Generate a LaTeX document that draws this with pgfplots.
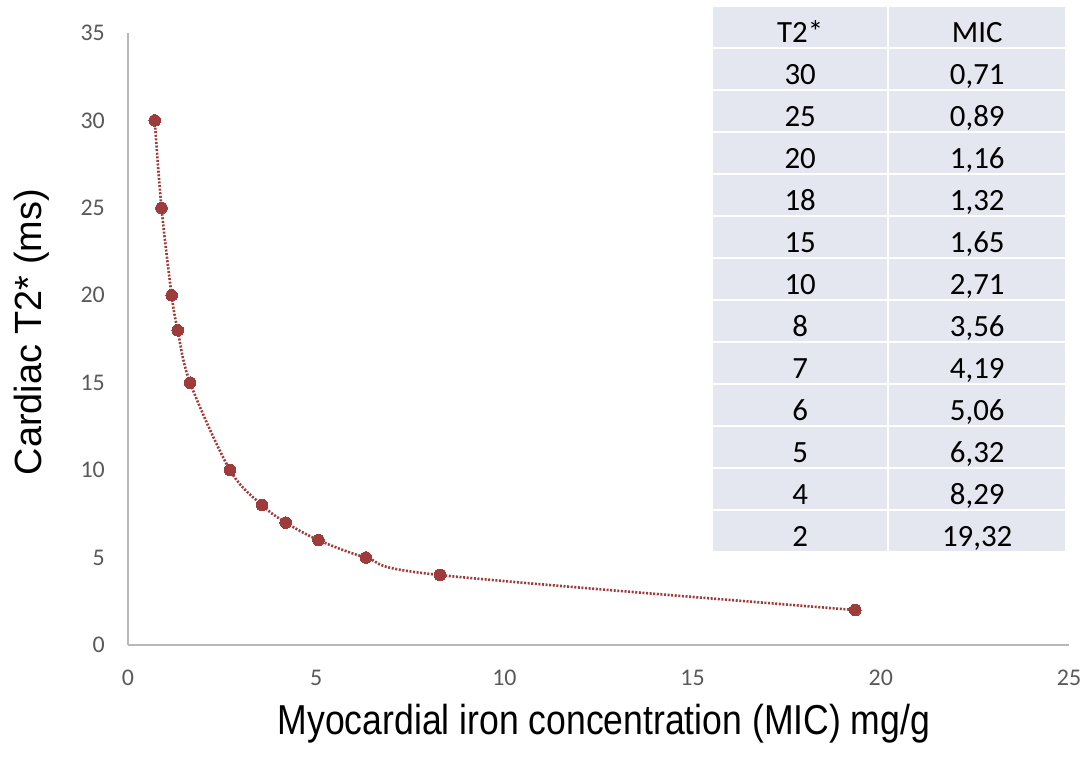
\documentclass[border=0pt]{standalone}
\usepackage{pgfplots}
\pgfplotsset{compat=1.18}
\usepackage{fontspec}
\setmainfont{Carlito}
\newfontfamily\arialf{Liberation Sans}
\usetikzlibrary{matrix}
\definecolor{pt}{HTML}{9E3B3B}
\definecolor{tbl}{HTML}{E4E6F0}
\definecolor{axgray}{HTML}{B8B8B8}
\definecolor{tickgray}{HTML}{595959}
\begin{document}
\begin{tikzpicture}
\useasboundingbox (-128bp,-120bp) rectangle (959bp,645bp);
\begin{axis}[
  at={(0,0)}, anchor=origin,
  x=37.64bp, y=17.486bp,
  xmin=0, xmax=25, ymin=0, ymax=35,
  axis lines=left,
  axis line style={-, draw=axgray, line width=1.4bp},
  xtick={0,5,...,25}, ytick={0,5,...,35},
  major tick length=0pt,
  /pgf/number format/assume math mode=true,
  tick label style={font=\fontsize{24}{27}\selectfont, text=tickgray},
  xticklabel style={anchor=north, inner sep=0pt, yshift=-25bp},
  yticklabel style={anchor=east, inner sep=0pt, xshift=-23bp},
  xlabel={\scalebox{0.85}[1]{\arialf\fontsize{42}{48}\selectfont Myocardial iron concentration (MIC) mg/g}},
  xlabel style={at={(axis description cs:0.5058,-0.147)}, anchor=base, inner sep=0pt},
  ylabel={\arialf\fontsize{38}{44}\selectfont Cardiac T2* (ms)},
  ylabel style={at={(axis description cs:-0.0914,0.511)}, anchor=base, inner sep=0pt, rotate=0},
  clip=false,
]
\addplot[pt, line width=2.6bp, dash pattern=on 2bp off 1.6bp, smooth, tension=0.55,
  mark=*, mark size=5.8bp, mark options={solid, fill=pt, draw=pt, line width=0pt}]
  coordinates {
  (0.71,30) (0.89,25) (1.16,20) (1.32,18) (1.65,15) (2.71,10)
  (3.56,8) (4.19,7) (5.06,6) (6.32,5) (8.29,4) (19.32,2)
  };
\end{axis}
\node[matrix of nodes, ampersand replacement=\&, anchor=north west, inner sep=0pt,
  column sep=2bp, row sep=2bp,
  nodes={fill=tbl, inner sep=0pt, minimum height=40bp, text height=34bp, text depth=4bp,
         font=\fontsize{31}{36}\selectfont, anchor=center},
  column 1/.style={nodes={minimum width=174bp}},
  column 2/.style={nodes={minimum width=176bp}}]
  at (585bp,638bp) {
  T2* \& MIC \\
  30 \& 0,71 \\
  25 \& 0,89 \\
  20 \& 1,16 \\
  18 \& 1,32 \\
  15 \& 1,65 \\
  10 \& 2,71 \\
  8 \& 3,56 \\
  7 \& 4,19 \\
  6 \& 5,06 \\
  5 \& 6,32 \\
  4 \& 8,29 \\
  2 \& 19,32 \\
  };
\end{tikzpicture}
\end{document}
